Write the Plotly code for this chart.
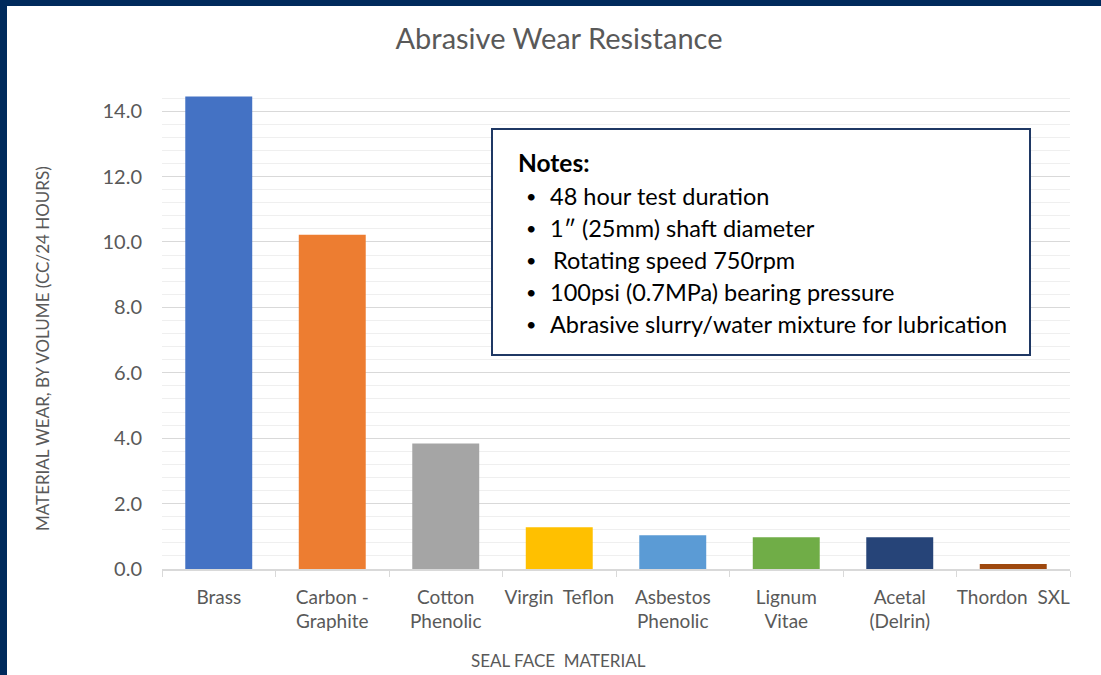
import plotly.graph_objects as go

categories = ["Brass", "Carbon -<br>Graphite", "Cotton<br>Phenolic", "Virgin  Teflon",
              "Asbestos<br>Phenolic", "Lignum<br>Vitae", "Acetal<br>(Delrin)", "Thordon  SXL"]
wear = [14.45, 10.22, 3.84, 1.28, 1.03, 0.97, 0.97, 0.15]
bar_colors = ["#4472C4", "#ED7D31", "#A5A5A5", "#FFC000", "#5B9BD5", "#70AD47", "#264478", "#9E480E"]
y_ticks = [0, 2, 4, 6, 8, 10, 12, 14]
y_ticktext = ["0.0", "2.0", "4.0", "6.0", "8.0", "10.0", "12.0", "14.0"]
notes_title = "Notes:"
notes = ["48 hour test duration", "1\u2033 (25mm) shaft diameter", "Rotating speed 750rpm",
         "100psi (0.7MPa) bearing pressure", "Abrasive slurry/water mixture for lubrication"]
x_title = "SEAL FACE\u00a0\u00a0MATERIAL"
y_title = "MATERIAL WEAR, BY VOLUME (CC/24 HOURS)"

W_PAGE, H_PAGE = 1101, 675
L, R, T, B = 162, 31, 85, 106
PW = W_PAGE - L - R
PH = H_PAGE - T - B
FONT = "Lato, 'Open Sans', sans-serif"
GREY = "#595959"
NAVY = "#002A5C"


def px(x):
    return (x - L) / PW


def py(y):
    return (H_PAGE - B - y) / PH


fig = go.Figure()
fig.add_trace(go.Bar(
    x=categories, y=wear,
    marker=dict(color=bar_colors, line=dict(width=0)),
    width=0.59, showlegend=False,
))

shapes = [
    dict(type="rect", xref="paper", yref="paper", x0=px(0), x1=px(7), y0=py(675), y1=py(0),
         fillcolor=NAVY, line=dict(width=0), layer="above"),
    dict(type="rect", xref="paper", yref="paper", x0=px(0), x1=px(1101), y0=py(6), y1=py(0),
         fillcolor=NAVY, line=dict(width=0), layer="above"),
    dict(type="rect", xref="paper", yref="paper", x0=px(492), x1=px(1030), y0=py(355), y1=py(129),
         fillcolor="white", line=dict(color="#1F3864", width=2), layer="above"),
]

annotations = [
    dict(text=y_title, textangle=-90, xref="paper", yref="paper",
         x=px(42), y=py(349), showarrow=False, font=dict(family=FONT, size=17, color=GREY),
         xanchor="center", yanchor="middle"),
    dict(text=x_title, xref="paper", yref="paper",
         x=px(558), y=py(660), showarrow=False, font=dict(family=FONT, size=17, color=GREY),
         xanchor="center", yanchor="middle"),
    dict(text=notes_title, xref="paper", yref="paper", x=px(516), y=py(162), showarrow=False,
         xanchor="left", yanchor="middle", font=dict(family=FONT, size=24.5, color="black", weight="bold")),
]
for i, line in enumerate(notes):
    yy = 196 + 32 * i
    annotations.append(dict(text="\u2022", xref="paper", yref="paper", x=px(524), y=py(yy), showarrow=False,
                            xanchor="left", yanchor="middle", font=dict(family=FONT, size=18, color="black")))
    annotations.append(dict(text=line, xref="paper", yref="paper", x=px(548 if i != 2 else 551), y=py(yy),
                            showarrow=False, xanchor="left", yanchor="middle",
                            font=dict(family=FONT, size=23.5, color="black")))

fig.update_layout(
    width=W_PAGE, height=H_PAGE,
    margin=dict(l=L, r=R, t=T, b=B, pad=0, autoexpand=False),
    paper_bgcolor="white", plot_bgcolor="white",
    bargap=0.41,
    title=dict(text="Abrasive Wear Resistance", x=px(559), xanchor="center", y=1 - 39 / H_PAGE,
               yanchor="middle", xref="paper",
               font=dict(family=FONT, size=29, color=GREY)),
    xaxis=dict(
        tickfont=dict(family=FONT, size=19, color=GREY), tickangle=0, automargin=False,
        showline=True, linecolor="#D9D9D9", linewidth=1.5,
        ticks="outside", ticklen=6, tickcolor="#D9D9D9", tickson="boundaries",
        showgrid=False, ticklabelstandoff=10,
    ),
    yaxis=dict(
        range=[0, 14.8], tickvals=y_ticks, ticktext=y_ticktext, automargin=False,
        tickfont=dict(family=FONT, size=20, color=GREY),
        showgrid=True, gridcolor="#D9D9D9", gridwidth=1,
        minor=dict(dtick=0.4, tick0=0, showgrid=True, gridcolor="#EFEFEF", gridwidth=1),
        zeroline=False, showline=False, ticks="", ticklabelstandoff=19,
    ),
    shapes=shapes,
    annotations=annotations,
)

fig.write_html("out.html", config={"displayModeBar": False},
               post_script="document.body.style.margin='0px';")
